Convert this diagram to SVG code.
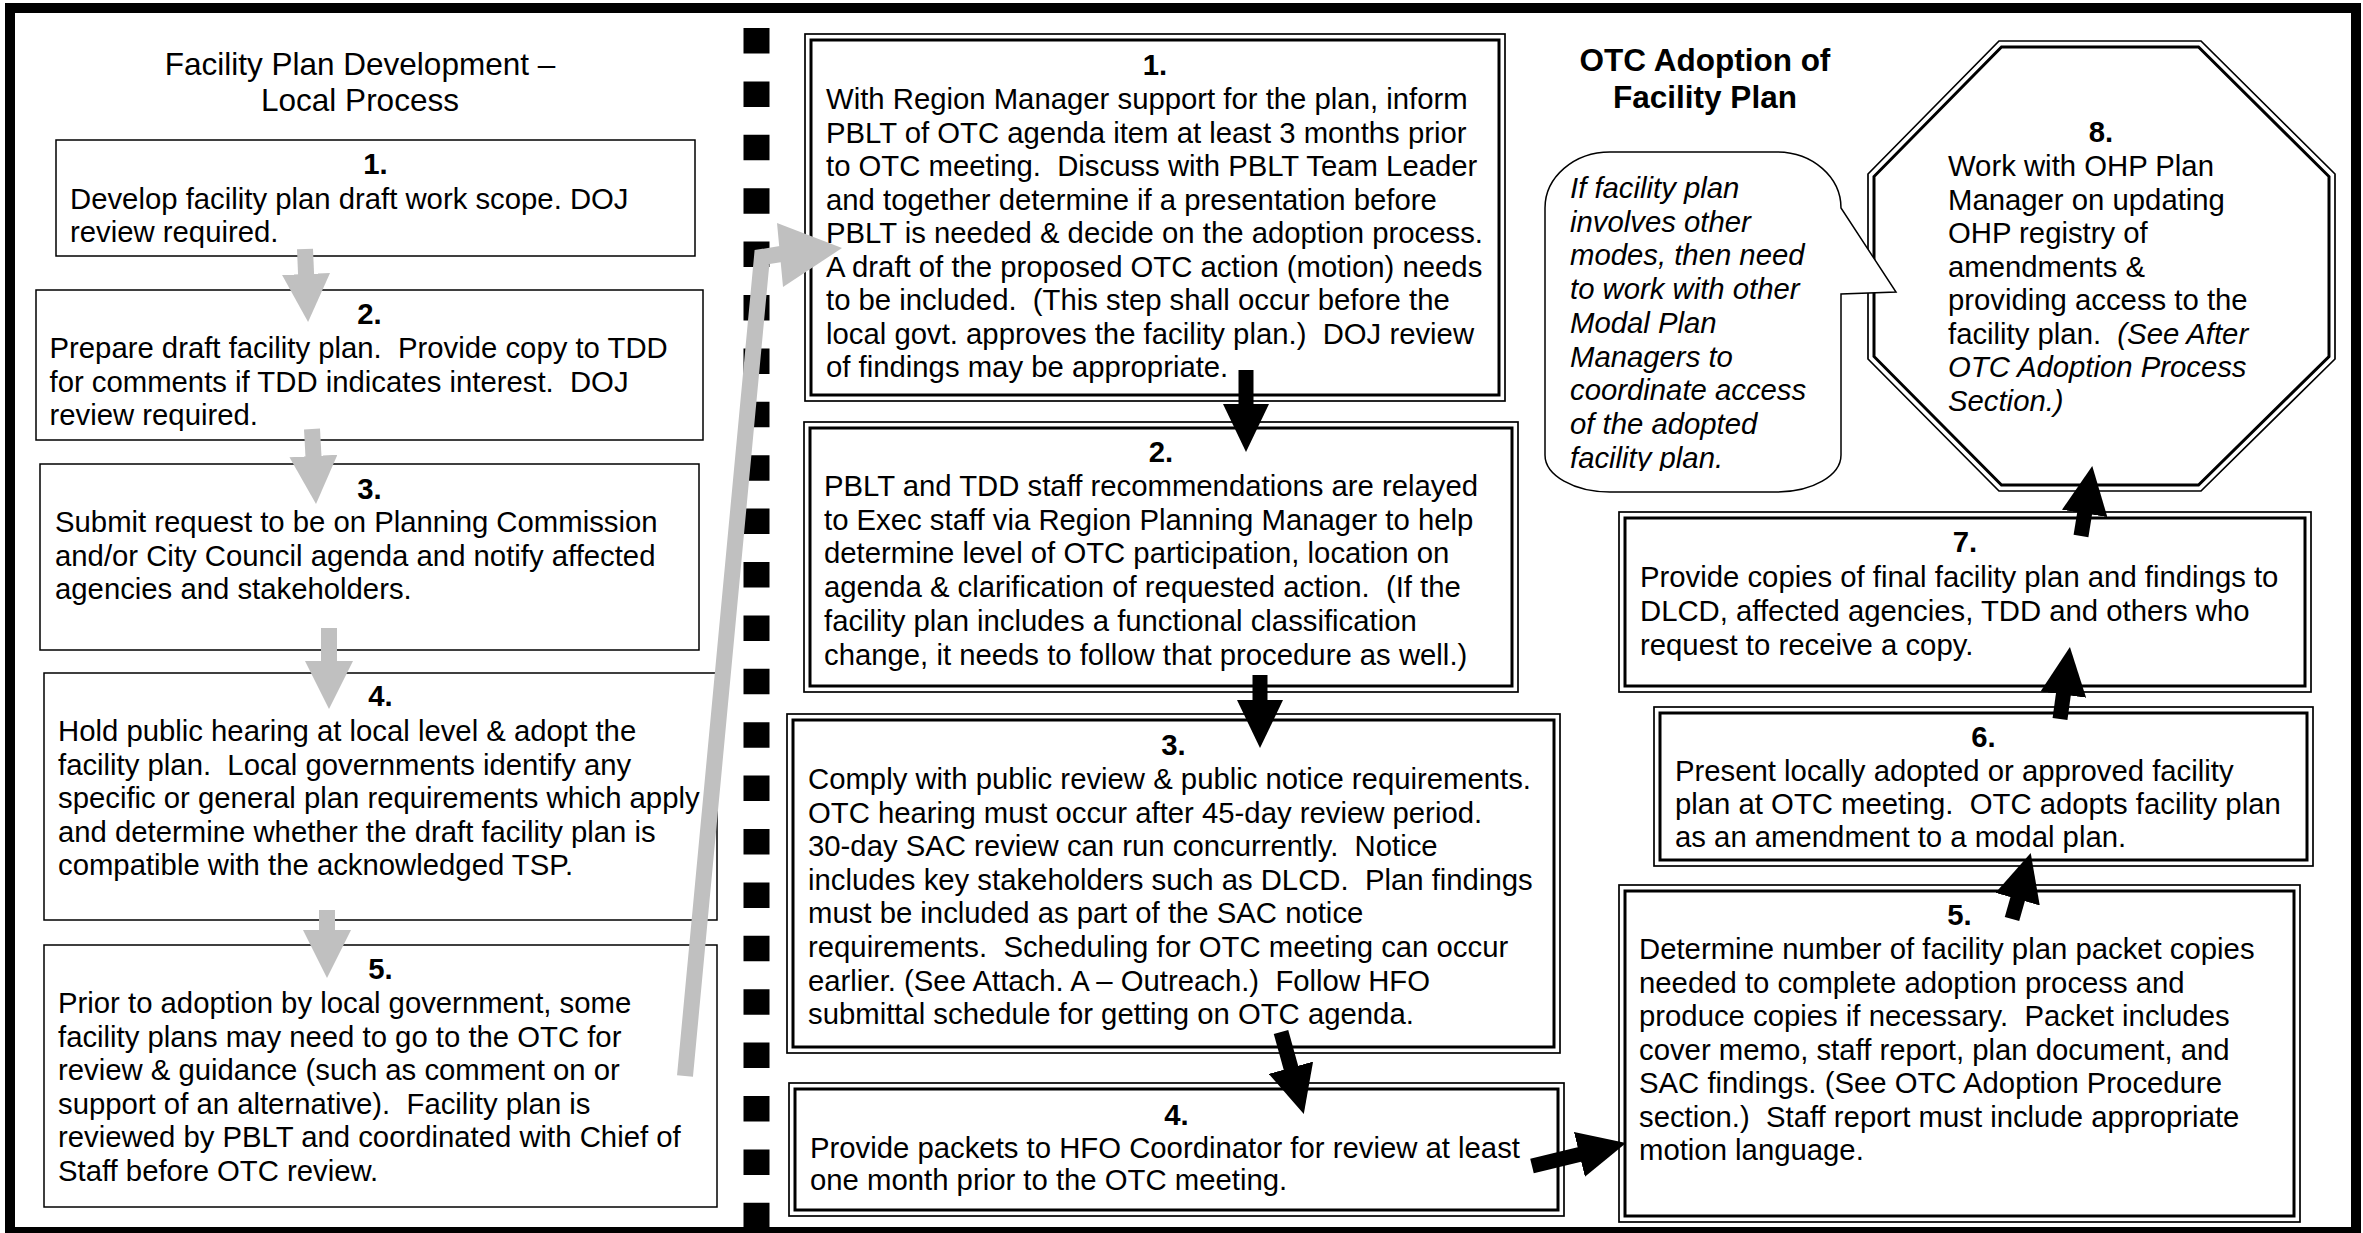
<svg xmlns="http://www.w3.org/2000/svg" width="2363" height="1233" viewBox="0 0 2363 1233">
<style>
.t{font-family:"Liberation Sans",Arial,sans-serif;font-size:29.3px;fill:#000;white-space:pre}
.n{font-weight:bold;text-anchor:middle}
.i{font-style:italic}
.ttl{font-family:"Liberation Sans",Arial,sans-serif;font-size:31.5px;fill:#000;text-anchor:middle}
.b{font-weight:bold}
.box{fill:#fff;stroke:#000;stroke-width:1.5}
.dbo{fill:#fff;stroke:#000;stroke-width:1.7}
.dbi{fill:none;stroke:#000;stroke-width:3}
.ga{fill:none;stroke:#c0c0c0;stroke-width:16;marker-end:url(#hg)}
.ba{fill:none;stroke:#000;stroke-width:15;marker-end:url(#hb)}
</style>
<defs>
<marker id="hb" markerUnits="userSpaceOnUse" viewBox="0 0 48 46" markerWidth="48" markerHeight="46" refX="1" refY="23" orient="auto"><path d="M0,0L48,23L0,46Z" fill="#000"/></marker>
<marker id="hg" markerUnits="userSpaceOnUse" viewBox="0 0 48 48" markerWidth="48" markerHeight="48" refX="1" refY="24" orient="auto"><path d="M0,0L48,24L0,48Z" fill="#c0c0c0"/></marker>
<clipPath id="cc"><rect x="1540" y="150" width="310" height="321"/></clipPath>
</defs>
<rect width="2363" height="1233" fill="#fff"/>
<rect id="frame" x="10" y="8" width="2346" height="1224" fill="none" stroke="#000" stroke-width="10"/>
<line id="divider" x1="756.5" y1="28" x2="756.5" y2="1230" stroke="#000" stroke-width="26" stroke-dasharray="25.5 27.9"/>
<g id="title-local"><text class="ttl" x="360" y="75">Facility Plan Development –</text><text class="ttl" x="360" y="111">Local Process</text></g>
<g id="title-otc"><text class="ttl b" x="1705" y="71">OTC Adoption of</text><text class="ttl b" x="1705" y="107.5">Facility Plan</text></g>
<g id="L1"><rect class="box" x="56" y="140" width="639" height="116"/><text class="t n" x="375.5" y="174">1.</text><text class="t" x="70" y="209">Develop facility plan draft work scope. DOJ</text><text class="t" x="70" y="242">review required.</text></g>
<g id="L2"><rect class="box" x="36" y="290" width="667" height="150"/><text class="t n" x="369.5" y="324">2.</text><text class="t" xml:space="preserve" x="49.5" y="358">Prepare draft facility plan.  Provide copy to TDD</text><text class="t" xml:space="preserve" x="49.5" y="391.5">for comments if TDD indicates interest.  DOJ</text><text class="t" x="49.5" y="425">review required.</text></g>
<g id="L3"><rect class="box" x="40" y="464" width="659" height="186"/><text class="t n" x="369.5" y="499">3.</text><text class="t" x="55" y="532">Submit request to be on Planning Commission</text><text class="t" x="55" y="565.5">and/or City Council agenda and notify affected</text><text class="t" x="55" y="599">agencies and stakeholders.</text></g>
<g id="L4"><rect class="box" x="44" y="673" width="673" height="247"/><text class="t n" x="380.5" y="706">4.</text><text class="t" x="58" y="741">Hold public hearing at local level &amp; adopt the</text><text class="t" xml:space="preserve" x="58" y="774.5">facility plan.  Local governments identify any</text><text class="t" x="58" y="808">specific or general plan requirements which apply</text><text class="t" x="58" y="841.5">and determine whether the draft facility plan is</text><text class="t" x="58" y="875">compatible with the acknowledged TSP.</text></g>
<g id="L5"><rect class="box" x="44" y="945" width="673" height="262"/><text class="t n" x="380.5" y="979">5.</text><text class="t" x="58" y="1013">Prior to adoption by local government, some</text><text class="t" x="58" y="1046.5">facility plans may need to go to the OTC for</text><text class="t" x="58" y="1080">review &amp; guidance (such as comment on or</text><text class="t" xml:space="preserve" x="58" y="1113.5">support of an alternative).  Facility plan is</text><text class="t" x="58" y="1147">reviewed by PBLT and coordinated with Chief of</text><text class="t" x="58" y="1180.5">Staff before OTC review.</text></g>
<g id="M1"><rect class="dbo" x="805" y="34" width="700" height="367"/><rect class="dbi" x="811" y="40" width="688" height="355"/><text class="t n" x="1155" y="75">1.</text><text class="t" x="826" y="109">With Region Manager support for the plan, inform</text><text class="t" x="826" y="142.5">PBLT of OTC agenda item at least 3 months prior</text><text class="t" xml:space="preserve" x="826" y="176">to OTC meeting.  Discuss with PBLT Team Leader</text><text class="t" x="826" y="209.5">and together determine if a presentation before</text><text class="t" x="826" y="243">PBLT is needed &amp; decide on the adoption process.</text><text class="t" x="826" y="276.5">A draft of the proposed OTC action (motion) needs</text><text class="t" xml:space="preserve" x="826" y="310">to be included.  (This step shall occur before the</text><text class="t" xml:space="preserve" x="826" y="343.5">local govt. approves the facility plan.)  DOJ review</text><text class="t" x="826" y="377">of findings may be appropriate.</text></g>
<g id="M2"><rect class="dbo" x="804" y="422" width="714" height="270"/><rect class="dbi" x="810" y="428" width="702" height="258"/><text class="t n" x="1161" y="462">2.</text><text class="t" x="824" y="496">PBLT and TDD staff recommendations are relayed</text><text class="t" x="824" y="529.7">to Exec staff via Region Planning Manager to help</text><text class="t" x="824" y="563.4">determine level of OTC participation, location on</text><text class="t" xml:space="preserve" x="824" y="597.1">agenda &amp; clarification of requested action.  (If the</text><text class="t" x="824" y="630.8">facility plan includes a functional classification</text><text class="t" x="824" y="664.5">change, it needs to follow that procedure as well.)</text></g>
<g id="M3"><rect class="dbo" x="787" y="714" width="773" height="339"/><rect class="dbi" x="793" y="720" width="761" height="327"/><text class="t n" x="1173.5" y="755">3.</text><text class="t" x="808" y="789">Comply with public review &amp; public notice requirements.</text><text class="t" x="808" y="822.6">OTC hearing must occur after 45-day review period.</text><text class="t" xml:space="preserve" x="808" y="856.2">30-day SAC review can run concurrently.  Notice</text><text class="t" xml:space="preserve" x="808" y="889.8">includes key stakeholders such as DLCD.  Plan findings</text><text class="t" x="808" y="923.4">must be included as part of the SAC notice</text><text class="t" xml:space="preserve" x="808" y="957">requirements.  Scheduling for OTC meeting can occur</text><text class="t" xml:space="preserve" x="808" y="990.6">earlier. (See Attach. A – Outreach.)  Follow HFO</text><text class="t" x="808" y="1024.2">submittal schedule for getting on OTC agenda.</text></g>
<g id="M4"><rect class="dbo" x="789" y="1083" width="775" height="133"/><rect class="dbi" x="795" y="1089" width="763" height="121"/><text class="t n" x="1176.5" y="1125">4.</text><text class="t" x="810" y="1157.5">Provide packets to HFO Coordinator for review at least</text><text class="t" x="810" y="1190">one month prior to the OTC meeting.</text></g>
<g id="R8"><polygon class="dbo" points="1999,41 2201,41 2335,174 2335,359 2201,491 1999,491 1868,359 1868,174"/><polygon class="dbi" stroke-width="2.5" points="2001.5,47 2198.5,47 2329,176.5 2329,356.5 2198.5,485 2001.5,485 1874,356.5 1874,176.5"/><text class="t n" x="2101" y="142">8.</text><text class="t" x="1948" y="176">Work with OHP Plan</text><text class="t" x="1948" y="209.5">Manager on updating</text><text class="t" x="1948" y="243">OHP registry of</text><text class="t" x="1948" y="276.5">amendments &amp;</text><text class="t" x="1948" y="310">providing access to the</text><text class="t" xml:space="preserve" x="1948" y="343.5">facility plan.  <tspan class="i">(See After</tspan></text><text class="t i" x="1948" y="377">OTC Adoption Process</text><text class="t i" x="1948" y="410.5">Section.)</text></g>
<g id="callout"><path d="M1610,152 L1777,152 A64,56 0 0 1 1841,208 L1896,292 L1841,294 L1841,455 A64,37 0 0 1 1777,492 L1610,492 A65,37 0 0 1 1545,455 L1545,208 A65,56 0 0 1 1610,152 Z" fill="#fff" stroke="#000" stroke-width="1.5"/><g clip-path="url(#cc)"><text class="t i" x="1570" y="198">If facility plan</text><text class="t i" x="1570" y="231.7">involves other</text><text class="t i" x="1570" y="265.4">modes, then need</text><text class="t i" x="1570" y="299.1">to work with other</text><text class="t i" x="1570" y="332.8">Modal Plan</text><text class="t i" x="1570" y="366.5">Managers to</text><text class="t i" x="1570" y="400.2">coordinate access</text><text class="t i" x="1570" y="433.9">of the adopted</text><text class="t i" x="1570" y="467.6">facility plan.</text></g></g>
<g id="R7"><rect class="dbo" x="1619" y="512" width="692" height="180"/><rect class="dbi" x="1625" y="518" width="680" height="168"/><text class="t n" x="1965" y="552">7.</text><text class="t" x="1640" y="586.5">Provide copies of final facility plan and findings to</text><text class="t" x="1640" y="620.5">DLCD, affected agencies, TDD and others who</text><text class="t" x="1640" y="654.5">request to receive a copy.</text></g>
<g id="R6"><rect class="dbo" x="1654" y="707" width="659" height="159"/><rect class="dbi" x="1660" y="713" width="647" height="147"/><text class="t n" x="1983.5" y="747">6.</text><text class="t" x="1675" y="780.5">Present locally adopted or approved facility</text><text class="t" xml:space="preserve" x="1675" y="813.5">plan at OTC meeting.  OTC adopts facility plan</text><text class="t" x="1675" y="846.5">as an amendment to a modal plan.</text></g>
<g id="R5"><rect class="dbo" x="1619" y="885" width="681" height="337"/><rect class="dbi" x="1625" y="891" width="669" height="325"/><text class="t n" x="1959.5" y="925">5.</text><text class="t" x="1639" y="959">Determine number of facility plan packet copies</text><text class="t" x="1639" y="992.5">needed to complete adoption process and</text><text class="t" xml:space="preserve" x="1639" y="1026">produce copies if necessary.  Packet includes</text><text class="t" x="1639" y="1059.5">cover memo, staff report, plan document, and</text><text class="t" x="1639" y="1093">SAC findings. (See OTC Adoption Procedure</text><text class="t" xml:space="preserve" x="1639" y="1126.5">section.)  Staff report must include appropriate</text><text class="t" x="1639" y="1160">motion language.</text></g>
<g id="connectors">
<line class="ga" x1="305" y1="249" x2="306.1" y2="275"/>
<line class="ga" x1="312" y1="429" x2="313.5" y2="457"/>
<line class="ga" x1="329" y1="628" x2="329" y2="662"/>
<line class="ga" x1="327" y1="910" x2="327" y2="931"/>
<polyline points="685,1076 762,257 781,254" fill="none" stroke="#c0c0c0" stroke-width="16" stroke-linejoin="miter"/>
<polygon points="777,223 842,248 783,287" fill="#c0c0c0"/>
<line class="ba" x1="1246" y1="370" x2="1246" y2="405"/>
<line class="ba" x1="1260" y1="675" x2="1260" y2="701"/>
<line class="ba" x1="1281" y1="1032" x2="1291.2" y2="1068.7"/>
<line class="ba" x1="1532" y1="1166" x2="1580.4" y2="1154.2"/>
<line class="ba" x1="2012" y1="919" x2="2017.9" y2="898.2"/>
<line class="ba" x1="2060" y1="719" x2="2063.5" y2="693.6"/>
<line class="ba" x1="2081" y1="536" x2="2084.8" y2="512.4"/>
</g>
</svg>
